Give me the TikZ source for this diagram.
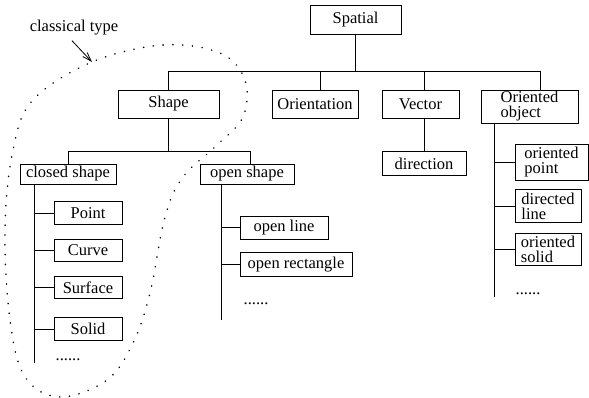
\documentclass[tikz,border=0pt]{standalone}
\usepackage{fontspec}
\setmainfont{Liberation Serif}
\usetikzlibrary{arrows.meta,positioning}

\begin{document}
\begin{tikzpicture}[x=1pt, y=-1pt,
  box/.style={draw, line width=0.8pt, inner sep=0pt, align=left, font=\fontsize{16.5}{15}\selectfont},
  top/.style={box, minimum height=28pt},
  leaf/.style={box, minimum width=68pt, minimum height=22.5pt},
  twoline/.style={box, minimum width=66pt, minimum height=32.5pt},
  more/.style={inner sep=0pt, font=\fontsize{16.5}{15}\selectfont},
  tree/.style={line width=0.8pt},
  fence/.style={line width=1.5pt, line cap=round, dash pattern=on 0.3pt off 9.5pt},
  arr/.style={-{Straight Barb[length=9pt,width=6pt]}, line width=0.8pt},
  note/.style={inner sep=0pt, font=\fontsize{16.5}{16.5}\selectfont}
]
\useasboundingbox (0,0) rectangle (589,398);

% top levels
\node[top, minimum width=91pt, minimum height=29pt] (spatial) at (355.5,19.5) {Spatial};
\node[top, minimum width=101pt] (shape) at (168.5,104) {Shape};
\node[top, minimum width=86pt] (orient) at (315,104) {Orientation};
\node[top, minimum width=77pt] (vec) at (420.5,104) {Vector};
\node[top, minimum width=97pt, minimum height=33pt] (oobj) at (529.5,106.5) {Oriented\\object};
\node[box, minimum width=84pt, minimum height=24pt, below=33pt of vec, xshift=3.5pt] (dir) {direction};

\coordinate (orientin) at ([xshift=5pt]orient.north);
\coordinate (vecin) at ([xshift=3.5pt]vec.north);
\coordinate (vecout) at ([xshift=3.5pt]vec.south);
\coordinate (oobjin) at ([xshift=10.5pt]oobj.north);
\draw[tree] (spatial.south) -- ++(0,37) coordinate (bus);
\draw[tree] (bus -| shape.north) -- (bus -| oobjin);
\draw[tree] (bus -| shape.north) -- (shape.north);
\draw[tree] (bus -| orientin) -- (orientin);
\draw[tree] (bus -| vecin) -- (vecin);
\draw[tree] (bus -| oobjin) -- (oobjin);
\draw[tree] (vecout) -- (dir.north);

% shape
\node[box, minimum width=96pt, minimum height=20pt] (closed) at (68,174) {closed shape};
\node[box, minimum width=94pt, minimum height=20pt] (open) at (247,174) {open shape};
\coordinate (openin) at ([xshift=3pt]open.north);
\draw[tree] (shape.south) -- ++(0,33) coordinate (sbus);
\draw[tree] (sbus -| closed.north) -- (sbus -| openin);
\draw[tree] (sbus -| closed.north) -- (closed.north);
\draw[tree] (sbus -| openin) -- (openin);

% closed shape
\node[leaf] (point) at (88,213) {Point};
\node[leaf, below right=14pt and 0pt of point.south west] (curve) {Curve};
\node[leaf, below right=14pt and 0pt of curve.south west] (surface) {Surface};
\node[leaf, below right=18pt and 0pt of surface.south west] (solid) {Solid};
\node[more] (cdots) at (68,360) {......};
\draw[tree] ([xshift=-34pt]closed.south) coordinate (ctop) -- ++(0,179);
\foreach \n in {point,curve,surface,solid}
  \draw[tree] (ctop |- \n.west) -- (\n.west);

% open shape
\node[box, minimum width=88pt, minimum height=23pt] (oline) at (284,227.5) {open line};
\node[box, minimum width=112pt, minimum height=24pt, below right=13pt and 0pt of oline.south west] (orect) {open rectangle};
\node[more] (odots) at (256,304) {......};
\draw[tree] ([xshift=-26pt]open.south) coordinate (otop) -- ++(0,136);
\foreach \n in {oline,orect}
  \draw[tree] (otop |- \n.west) -- (\n.west);

% oriented object
\node[twoline, minimum width=73pt, minimum height=36pt] (opoint) at (551.5,162) {oriented\\point};
\node[twoline, below right=9pt and 0pt of opoint.south west] (dline) {directed\\line};
\node[twoline, below right=10pt and 0pt of dline.south west] (osolid) {oriented\\solid};
\node[more] (odots2) at (528,294) {......};
\draw[tree] ([xshift=-35.5pt]oobj.south) coordinate (ootop) -- ++(0,174);
\foreach \n in {opoint,dline,osolid}
  \draw[tree] (ootop |- \n.west) -- (\n.west);

% classical type
\draw[fence] plot[smooth cycle, tension=0.6] coordinates {
  (92,62) (163,45) (220,53) (245,80) (243,117) (217,145) (183,177)
  (165,217) (150,293) (133,343) (107,380) (60,397) (25,377) (10,320)
  (5,230) (13,150) (33,100)};
\coordinate (tip) at (92,62);
\node[note] (cls) at (74,28) {classical type};
\draw[arr] ([shift={(-2,5)}]cls.south) -- (tip);

\end{tikzpicture}
\end{document}
